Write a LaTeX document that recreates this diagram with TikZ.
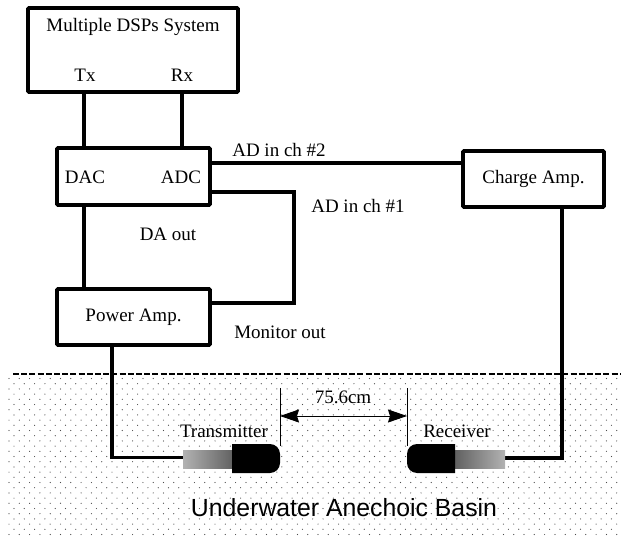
\documentclass[tikz,border=0pt]{standalone}
\usepackage{fontspec}
\setmainfont{Liberation Serif}
\newfontfamily\basinfont{Liberation Sans}
\usetikzlibrary{arrows.meta}
\tikzset{
  blockbox/.style={draw=black,line width=3.6pt,fill=white,outer sep=0pt,inner sep=0pt,rounded corners=1pt,align=center,font=\fontsize{19}{22}\selectfont},
  wire/.style={draw=black,line width=3.4pt},
  lbl/.style={inner sep=0pt,font=\fontsize{19}{22}\selectfont},
  guide/.style={draw=black,line width=0.8pt},
  dot/.style={fill=black!70},
}
\begin{document}
\begin{tikzpicture}[x=1pt,y=-1pt]
\useasboundingbox (0,0) rectangle (621,540);
\fill[white] (0,0) rectangle (621,540);
% dotted water
\foreach \r in {0,...,30}{
  \pgfmathsetmacro{\yy}{378.5+5.2*\r}
  \pgfmathsetmacro{\xs}{mod(\r,2)==0 ? 9 : 14}
  \foreach \c in {0,...,59}{
    \fill[dot] ({\xs+10.3*\c},\yy) circle (0.6);
  }
}
\draw[line width=1.8pt,dash pattern=on 6pt off 2.2pt] (13,374) -- (621,374);
% blocks
\node[blockbox,minimum width=210pt,minimum height=84pt] (dsp) at (133,50) {};
\node[blockbox,minimum width=153pt,minimum height=57pt] (conv) at (133.5,176.5) {};
\node[blockbox,minimum width=153pt,minimum height=56pt] (pamp) at (133.5,317) {\raisebox{-1.8pt}{Power Amp.}};
\node[blockbox,minimum width=141pt,minimum height=56pt] (camp) at (533.5,179) {\raisebox{-1.8pt}{Charge Amp.}};
% block labels
\node[lbl] (dsptitle) at (133,27) {\raisebox{-1.8pt}{Multiple DSPs System}};
\node[lbl] (tx) at (85,75) {Tx};
\node[lbl] (rx) at (182,75) {Rx};
\node[lbl] (dac) at (85,177) {DAC};
\node[lbl] (adc) at (181,177) {ADC};
% connector helpers
\coordinate (txdrop) at (84,0);
\coordinate (rxdrop) at (182,0);
\coordinate (adtwo) at (0,163);
\coordinate (mon) at (294,192);
\coordinate (monb) at (294,303);
\coordinate (pdrop) at (112,0);
\coordinate (tcable) at (183,457.5);
\coordinate (rcable) at (505,458);
\coordinate (cdrop) at (562,0);
% wires
\draw[wire] (dsp.south -| txdrop) -- (conv.north -| txdrop);
\draw[wire] (dsp.south -| rxdrop) -- (conv.north -| rxdrop);
\draw[wire] (conv.south -| txdrop) -- (pamp.north -| txdrop);
\draw[wire] (conv.east |- adtwo) -- (camp.west |- adtwo);
\draw[wire] (conv.east |- mon) -- (mon) -- (monb) -- (pamp.east |- monb);
\draw[wire] (pamp.south -| pdrop) -- (pdrop |- tcable) -- (tcable);
\draw[wire] (camp.south -| cdrop) -- (cdrop |- rcable) -- (rcable);
% transducers
\shade[left color=black!30,right color=black!62] (183,450) rectangle (233,468);
\fill[black] (232,444) -- (270,444) arc[start angle=-90,end angle=0,radius=10] -- (280,463) arc[start angle=0,end angle=90,radius=10] -- (232,473) -- cycle;
\shade[left color=black!62,right color=black!30] (455,450) rectangle (505,468);
\fill[black] (455,444) -- (417,444) arc[start angle=270,end angle=180,radius=10] -- (407,463) arc[start angle=180,end angle=90,radius=10] -- (455,473) -- cycle;
% dimension
\coordinate (tfront) at (280,446);
\coordinate (rfront) at (407,446);
\coordinate (ttop) at (280,388);
\coordinate (rtop) at (407,388);
\draw[guide] (tfront) -- (ttop);
\draw[guide] (rfront) -- (rtop);
\coordinate (al) at (280,416);
\coordinate (ar) at (407,416);
\draw[guide,{Stealth[length=19pt,width=13pt,inset=2pt]}-{Stealth[length=19pt,width=13pt,inset=2pt]}] (al) -- (ar);
% labels
\node[lbl] (ad2) at (279,150) {AD in ch \#2};
\node[lbl] (ad1) at (358,206) {AD in ch \#1};
\node[lbl] (daout) at (168,234) {DA out};
\node[lbl] (monout) at (280,332) {Monitor out};
\node[lbl] (dist) at (343,397) {75.6cm};
\node[lbl] (tlabel) at (224,431) {Transmitter};
\node[lbl] (rlabel) at (457,431) {Receiver};
\node[inner sep=0pt,font=\basinfont\fontsize{24.8}{28}\selectfont] (basin) at (344,508) {Underwater Anechoic Basin};
\end{tikzpicture}
\end{document}
